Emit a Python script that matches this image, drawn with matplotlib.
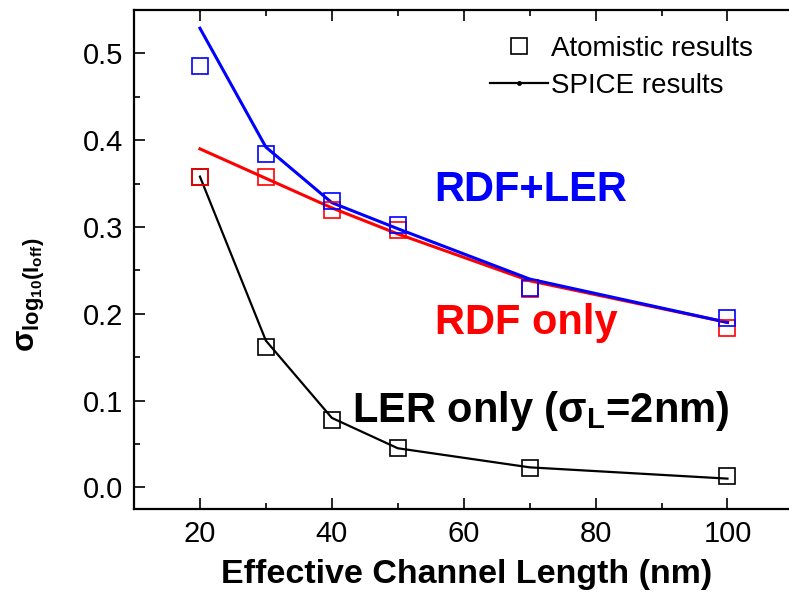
import numpy as np
import matplotlib
matplotlib.use('Agg')
import matplotlib.pyplot as plt
from matplotlib.ticker import MultipleLocator
from matplotlib.lines import Line2D

plt.rcParams['font.family'] = ['Liberation Sans', 'DejaVu Sans']
plt.rcParams['mathtext.fontset'] = 'custom'
plt.rcParams['mathtext.rm'] = 'Liberation Sans'
plt.rcParams['mathtext.it'] = 'Liberation Sans:italic'
plt.rcParams['mathtext.bf'] = 'Liberation Sans:bold'

# data
L_eff = [20, 30, 40, 50, 70, 100]

atom_rdf_ler = [0.485, 0.384, 0.330, 0.302, 0.230, 0.195]
atom_rdf = [0.357, 0.357, 0.320, 0.296, 0.228, 0.183]
atom_ler = [0.357, 0.162, 0.078, 0.045, 0.022, 0.013]

spice_rdf_ler = [0.529, 0.392, 0.328, 0.298, 0.240, 0.190]
spice_rdf = [0.390, 0.356, 0.322, 0.292, 0.238, 0.190]
spice_ler = [0.358, 0.169, 0.080, 0.045, 0.023, 0.010]

fig = plt.figure(figsize=(7.89, 5.95), dpi=100)
# right spine lies just outside the picture, as in the original
ax = fig.add_axes([134 / 789, 86 / 595, 666 / 789, 499 / 595])

ax.plot(L_eff, spice_ler, color='black', lw=1.6, zorder=2)
ax.plot(L_eff, spice_rdf, color='#ff0000', lw=2.2, zorder=2)
ax.plot(L_eff, spice_rdf_ler, color='#0000ff', lw=2.2, zorder=3)

ms = 12
ax.plot(L_eff, atom_ler, 's', mfc='none', mec='black', ms=ms, mew=1.2, zorder=4)
ax.plot(L_eff, atom_rdf, 's', mfc='none', mec='#ff0000', ms=ms, mew=1.2, zorder=4)
ax.plot(L_eff, atom_rdf_ler, 's', mfc='none', mec='#0000ff', ms=ms, mew=1.2, zorder=5)

ax.set_xlim(10, 111)
ax.set_ylim(-0.025, 0.55)
ax.xaxis.set_major_locator(MultipleLocator(20))
ax.xaxis.set_minor_locator(MultipleLocator(10))
ax.yaxis.set_major_locator(MultipleLocator(0.1))
ax.yaxis.set_minor_locator(MultipleLocator(0.05))
ax.yaxis.set_major_formatter(plt.FuncFormatter(lambda v, p: '%.1f' % v))

ax.tick_params(which='both', direction='in', top=True, right=True,
               labelsize=21, width=1.2, pad=8)
ax.tick_params(which='major', length=8)
ax.tick_params(which='minor', length=4)
for sp in ax.spines.values():
  sp.set_linewidth(1.6)

ax.set_xlabel('Effective Channel Length (nm)', fontsize=24.5, fontweight='bold',
              labelpad=8)
ax.set_ylabel(r'$\mathbf{\sigma_{log_{10}(I_{off})}}$', fontsize=22.5)
ax.yaxis.set_label_coords(-0.131, 0.43)

ax.text(55.6, 0.3295, 'RDF+LER', color='#0000ff', fontsize=30,
        fontweight='bold', ha='left', va='baseline')
ax.text(55.6, 0.177, 'RDF only', color='#ff0000', fontsize=30,
        fontweight='bold', ha='left', va='baseline')
ax.text(43.0, 0.075, r'LER only ($\mathbf{\sigma_L}$=2nm)', color='black',
        fontsize=30, fontweight='bold', ha='left', va='baseline')

handles = [
  Line2D([], [], ls='none', marker='s', mfc='none', mec='black', ms=ms, mew=1.2),
  Line2D([], [], color='black', lw=1.6, marker='.', ms=5),
]
leg = ax.legend(handles, ['Atomistic results', 'SPICE results'],
                loc='upper left', bbox_to_anchor=(490 / 789, 1 - 36 / 595),
                bbox_transform=fig.transFigure, frameon=False, fontsize=20,
                handlelength=2.1, handletextpad=0.1, labelspacing=0.4,
                borderpad=0, borderaxespad=0, numpoints=1)

fig.savefig('out.png', dpi=100)
